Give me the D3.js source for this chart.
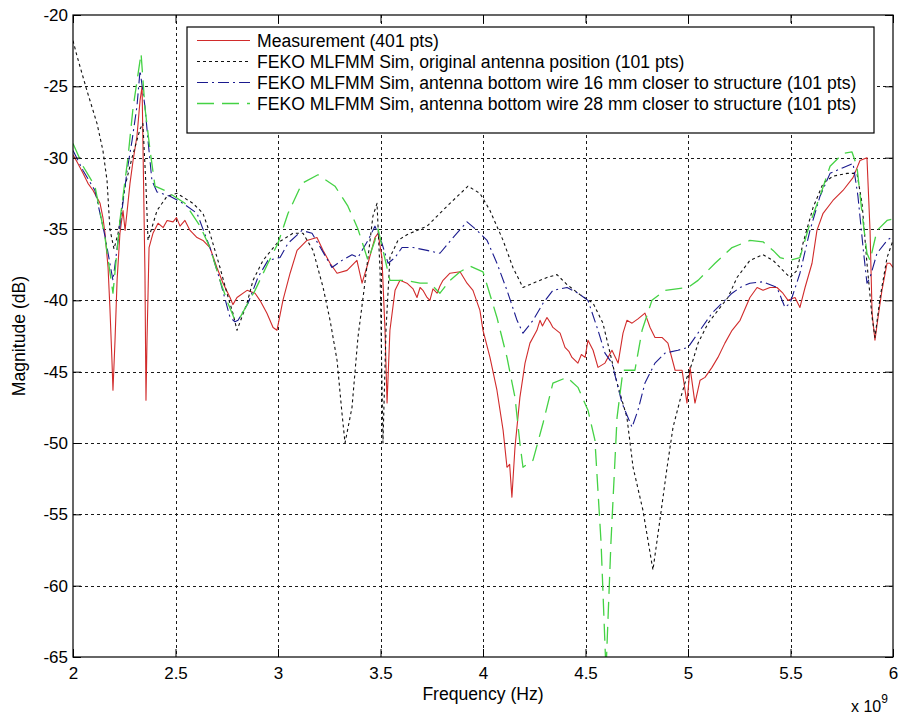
<!DOCTYPE html>
<html>
<head>
<meta charset="utf-8">
<script src="https://cdn.jsdelivr.net/npm/d3@7"></script>
<style>
  body { margin: 0; background: #fff; }
  svg text { font-family: "Liberation Sans", Arial, sans-serif; fill: #000; }
</style>
</head>
<body>
<svg id="chart" width="901" height="715"></svg>
<script>
// frequency in GHz (axis shows x 10^9), magnitude in dB

const measurement = [
  [2.000,-29.8],[2.020,-30.3],[2.049,-31.1],[2.073,-31.8],[2.098,-32.3],[2.117,-32.8],[2.132,-33.2],
  [2.146,-34.2],[2.156,-35.3],[2.171,-37.7],[2.180,-40.5],[2.190,-44.2],[2.195,-46.3],[2.205,-42.8],
  [2.215,-38.6],[2.229,-35.3],[2.244,-33.7],[2.254,-35.1],[2.263,-33.9],[2.278,-31.8],[2.293,-30.2],
  [2.312,-28.5],[2.327,-26.0],[2.337,-25.0],[2.341,-28.8],[2.351,-38.1],[2.356,-47.0],[2.361,-42.8],
  [2.371,-36.3],[2.390,-35.3],[2.415,-34.6],[2.440,-34.9],[2.459,-34.4],[2.488,-34.5],[2.505,-34.2],
  [2.522,-34.8],[2.546,-34.4],[2.571,-35.1],[2.605,-35.6],[2.634,-35.8],[2.668,-36.3],[2.702,-37.7],
  [2.732,-38.8],[2.766,-39.8],[2.780,-40.3],[2.800,-39.8],[2.849,-39.3],[2.888,-39.5],[2.912,-40.0],
  [2.946,-40.9],[2.976,-41.9],[2.995,-42.1],[3.024,-40.0],[3.059,-38.1],[3.093,-36.5],[3.141,-35.8],
  [3.190,-35.6],[3.220,-36.5],[3.254,-37.4],[3.288,-38.1],[3.337,-37.9],[3.385,-37.2],[3.410,-38.8],
  [3.439,-37.4],[3.473,-35.6],[3.488,-35.3],[3.507,-37.0],[3.522,-42.1],[3.532,-47.2],[3.546,-42.1],
  [3.571,-39.3],[3.595,-38.6],[3.629,-38.8],[3.659,-39.2],[3.678,-39.8],[3.693,-39.1],[3.707,-39.3],
  [3.727,-39.8],[3.741,-40.0],[3.756,-39.2],[3.776,-39.5],[3.790,-39.0],[3.805,-38.6],[3.839,-38.1],
  [3.888,-38.0],[3.922,-38.8],[3.951,-39.3],[3.985,-40.7],[4.000,-42.1],[4.034,-44.0],[4.068,-46.3],
  [4.098,-49.1],[4.117,-51.7],[4.130,-51.5],[4.141,-53.8],[4.156,-50.3],[4.180,-46.8],[4.205,-44.4],
  [4.229,-43.0],[4.263,-42.1],[4.278,-41.4],[4.290,-41.8],[4.312,-41.2],[4.330,-41.6],[4.341,-41.9],
  [4.376,-42.3],[4.400,-43.3],[4.420,-43.6],[4.434,-44.0],[4.463,-44.4],[4.480,-43.8],[4.498,-44.0],
  [4.512,-42.8],[4.537,-43.5],[4.561,-44.7],[4.595,-44.4],[4.629,-43.5],[4.659,-44.4],[4.683,-42.3],
  [4.702,-41.4],[4.727,-41.6],[4.756,-41.3],[4.790,-40.9],[4.815,-41.9],[4.839,-42.6],[4.873,-42.6],
  [4.902,-43.0],[4.937,-44.9],[4.971,-44.9],[4.995,-47.2],[5.010,-44.7],[5.034,-47.2],[5.059,-45.6],
  [5.083,-45.4],[5.117,-44.7],[5.146,-44.0],[5.180,-43.0],[5.215,-42.1],[5.254,-41.4],[5.302,-39.8],
  [5.337,-39.1],[5.366,-39.3],[5.400,-39.1],[5.434,-39.1],[5.463,-39.5],[5.488,-40.0],[5.522,-39.8],
  [5.546,-40.5],[5.571,-39.1],[5.605,-37.4],[5.629,-35.1],[5.659,-33.9],[5.707,-33.0],[5.756,-32.3],
  [5.805,-31.4],[5.839,-30.2],[5.873,-30.0],[5.888,-35.1],[5.898,-40.9],[5.912,-42.8],[5.927,-41.2],
  [5.946,-39.3],[5.971,-37.4],[5.985,-37.4],[6.000,-37.7]
];

const simOriginal = [
  [2.000,-21.8],[2.020,-22.9],[2.068,-25.3],[2.117,-27.6],[2.146,-29.5],[2.166,-31.6],[2.180,-35.0],
  [2.200,-36.4],[2.220,-35.3],[2.254,-32.0],[2.288,-30.0],[2.327,-28.0],[2.341,-27.6],[2.356,-32.0],
  [2.366,-35.8],[2.410,-33.7],[2.459,-32.7],[2.507,-32.5],[2.585,-33.2],[2.634,-33.9],[2.668,-35.3],
  [2.717,-37.7],[2.751,-39.5],[2.780,-40.9],[2.800,-42.1],[2.849,-40.2],[2.878,-38.6],[2.927,-37.2],
  [2.995,-36.0],[3.073,-35.3],[3.122,-35.3],[3.171,-36.5],[3.220,-39.1],[3.254,-41.4],[3.288,-44.2],
  [3.312,-47.9],[3.327,-50.0],[3.361,-47.5],[3.390,-42.6],[3.415,-39.8],[3.439,-37.0],[3.463,-34.1],
  [3.483,-33.2],[3.498,-38.0],[3.512,-50.0],[3.527,-42.0],[3.546,-37.0],[3.585,-35.8],[3.629,-35.4],
  [3.727,-34.8],[3.839,-33.2],[3.927,-32.0],[3.985,-32.5],[4.034,-33.7],[4.098,-35.8],[4.146,-37.7],
  [4.195,-39.1],[4.244,-38.8],[4.312,-38.4],[4.361,-38.2],[4.410,-38.9],[4.473,-39.6],[4.537,-40.2],
  [4.585,-41.6],[4.620,-43.7],[4.654,-45.8],[4.702,-48.2],[4.732,-51.7],[4.780,-54.7],[4.829,-58.9],
  [4.863,-55.4],[4.898,-51.7],[4.927,-48.9],[4.961,-47.0],[4.985,-45.8],[5.020,-44.4],[5.049,-43.0],
  [5.098,-41.6],[5.146,-40.7],[5.195,-39.8],[5.239,-38.4],[5.302,-37.2],[5.366,-36.8],[5.415,-37.2],
  [5.463,-37.9],[5.498,-38.4],[5.532,-37.9],[5.561,-36.0],[5.610,-33.5],[5.659,-31.8],[5.707,-31.3],
  [5.776,-31.1],[5.824,-31.1],[5.849,-33.2],[5.873,-37.4],[5.898,-41.2],[5.912,-42.6],[5.937,-39.8],
  [5.971,-37.0],[6.000,-35.8]
];

const sim16mm = [
  [2.000,-29.5],[2.049,-30.9],[2.107,-32.3],[2.156,-35.5],[2.195,-38.6],[2.229,-34.8],[2.263,-31.0],
  [2.288,-28.8],[2.312,-26.4],[2.327,-23.9],[2.351,-26.4],[2.366,-28.8],[2.385,-31.6],[2.410,-32.4],
  [2.473,-32.7],[2.537,-33.2],[2.605,-33.9],[2.668,-36.3],[2.717,-38.6],[2.766,-41.2],[2.790,-41.5],
  [2.805,-41.4],[2.854,-40.2],[2.902,-38.4],[2.951,-37.2],[3.010,-37.0],[3.049,-36.0],[3.117,-35.1],
  [3.166,-35.3],[3.215,-36.5],[3.263,-37.7],[3.312,-37.2],[3.361,-36.8],[3.390,-37.0],[3.439,-35.8],
  [3.473,-34.8],[3.507,-36.0],[3.537,-37.4],[3.571,-37.0],[3.605,-36.3],[3.659,-36.3],[3.727,-36.5],
  [3.790,-36.7],[3.854,-35.6],[3.922,-34.5],[3.971,-35.1],[4.020,-35.8],[4.068,-37.4],[4.117,-39.3],
  [4.166,-41.4],[4.195,-42.3],[4.244,-41.4],[4.293,-40.2],[4.341,-39.3],[4.410,-39.1],[4.463,-39.5],
  [4.512,-40.0],[4.561,-42.1],[4.595,-43.7],[4.629,-44.4],[4.678,-47.2],[4.727,-48.9],[4.756,-47.7],
  [4.790,-45.8],[4.839,-44.4],[4.888,-43.7],[4.951,-43.5],[5.000,-43.3],[5.068,-41.9],[5.117,-40.9],
  [5.166,-40.2],[5.215,-39.5],[5.254,-39.1],[5.302,-38.8],[5.366,-38.7],[5.434,-39.1],[5.473,-40.5],
  [5.498,-40.2],[5.546,-38.1],[5.595,-35.1],[5.644,-32.7],[5.693,-31.1],[5.756,-30.7],[5.805,-30.4],
  [5.829,-32.7],[5.854,-36.3],[5.873,-38.8],[5.888,-38.4],[5.922,-36.7],[5.971,-35.8],[6.000,-35.5]
];

const sim28mm = [
  [2.000,-29.0],[2.049,-30.6],[2.107,-32.0],[2.156,-35.6],[2.195,-39.5],[2.229,-34.4],[2.268,-30.0],
  [2.293,-26.5],[2.332,-22.7],[2.351,-26.5],[2.376,-29.5],[2.400,-32.0],[2.449,-32.3],[2.546,-33.2],
  [2.620,-34.8],[2.668,-36.3],[2.717,-38.6],[2.756,-40.2],[2.790,-41.4],[2.815,-41.2],[2.888,-39.3],
  [2.951,-37.4],[3.000,-36.0],[3.049,-33.9],[3.117,-31.8],[3.195,-31.2],[3.278,-32.0],[3.341,-33.4],
  [3.390,-35.0],[3.439,-37.2],[3.473,-35.8],[3.488,-35.0],[3.546,-38.6],[3.620,-38.6],[3.693,-38.8],
  [3.741,-38.8],[3.790,-39.5],[3.839,-38.6],[3.888,-38.0],[3.937,-37.6],[4.000,-38.0],[4.068,-41.2],
  [4.117,-44.0],[4.156,-46.8],[4.180,-50.0],[4.195,-51.7],[4.244,-51.2],[4.293,-48.6],[4.341,-45.8],
  [4.410,-45.4],[4.463,-46.1],[4.512,-47.7],[4.546,-49.8],[4.576,-57.0],[4.600,-66.0],[4.624,-57.0],
  [4.654,-48.2],[4.683,-44.9],[4.741,-44.9],[4.776,-42.1],[4.824,-40.0],[4.888,-39.3],[5.000,-39.1],
  [5.049,-38.6],[5.132,-37.4],[5.215,-36.3],[5.302,-35.8],[5.366,-35.9],[5.415,-36.5],[5.449,-37.0],
  [5.498,-37.2],[5.546,-37.0],[5.595,-34.6],[5.644,-32.7],[5.693,-30.6],[5.756,-29.7],[5.800,-29.6],
  [5.824,-30.6],[5.849,-33.9],[5.873,-36.7],[5.888,-37.2],[5.922,-35.1],[5.971,-34.4],[6.000,-34.3]
];

const xTicks = [2, 2.5, 3, 3.5, 4, 4.5, 5, 5.5, 6];
const xTickLabels = ["2", "2.5", "3", "3.5", "4", "4.5", "5", "5.5", "6"];
const yTicks = [-65, -60, -55, -50, -45, -40, -35, -30, -25, -20];

const seriesNames = [
  "Measurement (401 pts)",
  "FEKO MLFMM Sim, original antenna position (101 pts)",
  "FEKO MLFMM Sim, antenna bottom wire 16 mm closer to structure (101 pts)",
  "FEKO MLFMM Sim, antenna bottom wire 28 mm closer to structure (101 pts)"
];

const styles = [
  { data: measurement, color: "#d12b2b", dash: null,         width: 1.1 },
  { data: simOriginal, color: "#111111", dash: "3,3",        width: 1.1 },
  { data: sim16mm,     color: "#1a1a8e", dash: "11,4,2,4",   width: 1.1 },
  { data: sim28mm,     color: "#44d244", dash: "17,8",       width: 1.3 }
];

const W = 901, H = 715;
const margin = { top: 15, right: 8, bottom: 58, left: 73 };
const innerW = W - margin.left - margin.right;
const innerH = H - margin.top - margin.bottom;
const labelFont = 17.6;

const svg = d3.select("#chart");
svg.append("rect").attr("width", W).attr("height", H).attr("fill", "#fff");

const g = svg.append("g").attr("transform", `translate(${margin.left},${margin.top})`);

const x = d3.scaleLinear().domain([2, 6]).range([0, innerW]);
const y = d3.scaleLinear().domain([-65, -20]).range([innerH, 0]);

g.append("clipPath").attr("id", "plotClip")
  .append("rect").attr("width", innerW).attr("height", innerH);

// grid
const grid = g.append("g").attr("class", "grid")
  .attr("stroke", "#1a1a1a").attr("stroke-width", 1).attr("stroke-dasharray", "3,3");
grid.selectAll("line.gx").data(xTicks.slice(1, -1)).enter().append("line")
  .attr("x1", d => Math.round(x(d)) + 0.5).attr("x2", d => Math.round(x(d)) + 0.5)
  .attr("y1", 0).attr("y2", innerH);
grid.selectAll("line.gy").data(yTicks.slice(1, -1)).enter().append("line")
  .attr("y1", d => Math.round(y(d)) + 0.5).attr("y2", d => Math.round(y(d)) + 0.5)
  .attr("x1", 0).attr("x2", innerW);

// series
const line = d3.line().x(d => x(d[0])).y(d => y(d[1]));
const plot = g.append("g").attr("clip-path", "url(#plotClip)");
styles.forEach(s => {
  plot.append("path")
    .datum(s.data)
    .attr("d", line)
    .attr("fill", "none")
    .attr("stroke", s.color)
    .attr("stroke-width", s.width)
    .attr("stroke-dasharray", s.dash)
    .attr("stroke-linejoin", "round");
});

// axes (ticks inside, mirrored on top/right)
const tickLen = 8;
const axisFont = 17;

const xAxis = g.append("g").attr("transform", `translate(0,${innerH})`)
  .call(d3.axisBottom(x).tickValues(xTicks).tickSizeInner(-tickLen).tickSizeOuter(0)
    .tickFormat((d, i) => xTickLabels[i]));
xAxis.selectAll("text").attr("dy", null).attr("y", 22)
  .style("font-size", axisFont + "px");

const yAxis = g.append("g")
  .call(d3.axisLeft(y).tickValues(yTicks).tickSizeInner(-tickLen).tickSizeOuter(0)
    .tickFormat(d => String(d)));
yAxis.selectAll("text").attr("x", -5).style("font-size", axisFont + "px");

g.append("g").call(d3.axisTop(x).tickValues(xTicks).tickSizeInner(-tickLen).tickSizeOuter(0).tickFormat(""));
g.append("g").attr("transform", `translate(${innerW},0)`)
  .call(d3.axisRight(y).tickValues(yTicks).tickSizeInner(-tickLen).tickSizeOuter(0).tickFormat(""));

g.selectAll(".domain").remove();
g.selectAll(".tick line").attr("stroke", "#000");
g.append("rect").attr("width", innerW).attr("height", innerH)
  .attr("fill", "none").attr("stroke", "#000").attr("stroke-width", 1.2);

// axis labels
svg.append("text")
  .attr("x", margin.left + innerW / 2).attr("y", 700)
  .attr("text-anchor", "middle").style("font-size", labelFont + "px")
  .text("Frequency (Hz)");

svg.append("text")
  .attr("transform", `translate(25,${margin.top + innerH / 2}) rotate(-90)`)
  .attr("text-anchor", "middle").style("font-size", labelFont + "px")
  .text("Magnitude (dB)");

const expo = svg.append("text").attr("x", 851).attr("y", 712).style("font-size", "16px");
expo.append("tspan").text("x 10");
expo.append("tspan").attr("dy", -9).style("font-size", "12px").text("9");

// legend
const legend = svg.append("g").attr("transform", "translate(187,27)");
legend.append("rect").attr("width", 687).attr("height", 106)
  .attr("fill", "#fff").attr("stroke", "#000").attr("stroke-width", 1.2);
const rows = legend.selectAll("g.row").data(styles).enter().append("g")
  .attr("transform", (d, i) => `translate(0,${13.5 + i * 21})`);
rows.append("line")
  .attr("x1", 10).attr("x2", 63).attr("y1", 0).attr("y2", 0)
  .attr("stroke", d => d.color).attr("stroke-width", d => d.width)
  .attr("stroke-dasharray", d => d.dash);
rows.append("text")
  .attr("x", 70).attr("y", 0).attr("dy", "0.35em")
  .style("font-size", labelFont + "px")
  .text((d, i) => seriesNames[i]);
</script>
</body>
</html>
